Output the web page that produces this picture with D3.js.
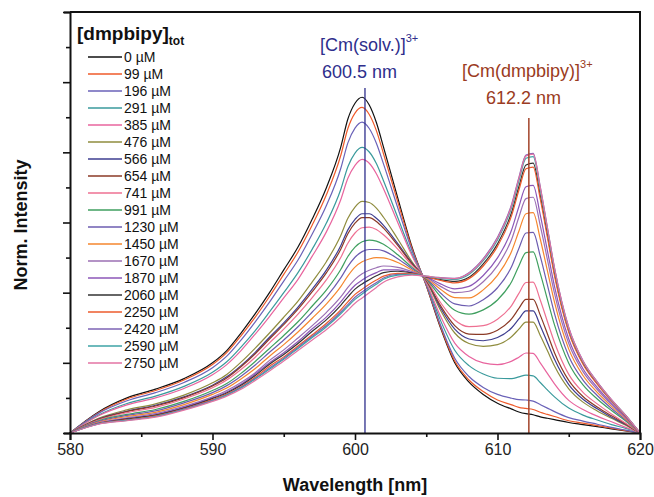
<!DOCTYPE html>
<html>
<head>
<meta charset="UTF-8">
<script src="https://d3js.org/d3.v7.min.js"></script>
<style>
  body { margin: 0; background: #fff; font-family: "Liberation Sans", Arial, sans-serif; }
  .tick text { font-size: 16px; fill: #222; }
  .axis-title { font-size: 18px; font-weight: bold; fill: #111; }
  .leg { font-size: 14px; fill: #111; }
</style>
</head>
<body>
<svg id="chart"></svg>
<script>
// wavelength grid (nm)
const wavelengths = [580,582,584,586,588,590,591,592,593,594,595,596,597,598,599,599.5,600,600.5,601,601.5,602,603,604,605,606,607,608,609,610,611,611.5,612,612.5,613,613.5,614,615,616,617,618,619,620];

const concLabels = ["0 µM","99 µM","196 µM","291 µM","385 µM","476 µM","566 µM","654 µM","741 µM","991 µM","1230 µM","1450 µM","1670 µM","1870 µM","2060 µM","2250 µM","2420 µM","2590 µM","2750 µM"];

// normalized intensity, one array per titration step
const int0    = [0,.060,.100,.125,.155,.200,.235,.285,.340,.400,.465,.530,.610,.700,.815,.895,.940,.957,.935,.885,.815,.670,.530,.420,.300,.200,.145,.110,.085,.068,.060,.055,.052,.046,.042,.038,.030,.024,.018,.012,.006,0];
const int99   = [0,.058,.097,.121,.151,.195,.229,.277,.330,.389,.452,.516,.593,.680,.791,.868,.912,.928,.908,.862,.796,.659,.526,.421,.303,.205,.151,.118,.094,.080,.073,.070,.067,.059,.053,.047,.035,.028,.021,.014,.007,0];
const int196  = [0,.056,.092,.115,.144,.186,.219,.265,.317,.373,.433,.493,.567,.649,.754,.827,.869,.886,.868,.826,.767,.642,.520,.423,.308,.213,.161,.130,.110,.099,.095,.094,.091,.081,.071,.061,.044,.034,.025,.016,.008,0];
const int291  = [0,.051,.084,.105,.133,.173,.203,.245,.292,.345,.400,.457,.524,.599,.694,.759,.798,.814,.801,.768,.719,.614,.510,.427,.321,.236,.192,.168,.156,.155,.160,.165,.163,.144,.123,.103,.071,.051,.037,.024,.013,0];
const int385  = [0,.049,.080,.100,.127,.166,.195,.235,.282,.332,.385,.438,.504,.574,.665,.726,.763,.780,.769,.739,.696,.600,.505,.428,.333,.256,.218,.200,.195,.205,.216,.228,.227,.200,.170,.140,.093,.067,.048,.032,.016,0];
const int476  = [0,.042,.066,.083,.108,.143,.167,.202,.242,.285,.330,.376,.431,.489,.563,.612,.644,.660,.657,.641,.615,.553,.488,.434,.350,.285,.255,.247,.252,.275,.296,.316,.316,.278,.235,.191,.126,.088,.063,.042,.022,0];
const int566  = [0,.040,.062,.079,.103,.136,.160,.192,.230,.273,.314,.359,.410,.465,.534,.579,.609,.625,.625,.612,.592,.540,.484,.436,.357,.296,.268,.263,.272,.300,.325,.348,.348,.306,.258,.210,.138,.096,.069,.045,.024,0];
const int654  = [0,.039,.061,.077,.101,.134,.157,.189,.226,.268,.309,.353,.403,.457,.524,.568,.598,.614,.614,.603,.584,.535,.482,.436,.363,.306,.282,.281,.293,.326,.355,.381,.381,.336,.283,.229,.150,.104,.074,.049,.026,0];
const int741  = [0,.037,.058,.073,.097,.129,.151,.181,.216,.257,.296,.339,.386,.437,.500,.541,.570,.585,.587,.580,.565,.524,.478,.438,.372,.322,.303,.306,.324,.364,.398,.429,.430,.379,.318,.258,.167,.116,.083,.054,.028,0];
const int991  = [0,.035,.053,.067,.090,.121,.141,.170,.204,.241,.278,.317,.362,.408,.466,.503,.530,.545,.550,.547,.538,.508,.472,.439,.389,.350,.339,.351,.379,.432,.476,.514,.516,.455,.381,.308,.199,.137,.097,.064,.034,0];
const int1230 = [0,.033,.050,.063,.086,.115,.135,.162,.194,.230,.265,.303,.345,.388,.442,.475,.501,.517,.523,.523,.519,.497,.468,.441,.399,.368,.362,.380,.414,.475,.526,.570,.572,.504,.422,.340,.219,.151,.107,.070,.037,0];
const int1450 = [0,.031,.047,.059,.081,.110,.128,.154,.184,.219,.252,.288,.327,.368,.417,.448,.473,.488,.496,.500,.499,.486,.464,.442,.410,.386,.385,.408,.449,.519,.575,.625,.628,.553,.463,.373,.239,.164,.116,.076,.040,0];
const int1670 = [0,.029,.043,.055,.076,.103,.121,.144,.172,.207,.237,.271,.306,.344,.388,.415,.438,.454,.464,.471,.476,.472,.460,.444,.418,.400,.404,.431,.477,.553,.615,.668,.672,.591,.495,.398,.255,.175,.124,.081,.043,0];
const int1870 = [0,.028,.041,.052,.073,.100,.117,.139,.168,.200,.229,.261,.297,.331,.374,.399,.421,.436,.448,.457,.465,.465,.457,.445,.425,.411,.418,.449,.499,.580,.645,.702,.706,.622,.520,.418,.268,.183,.130,.085,.045,0];
const int2060 = [0,.027,.040,.051,.071,.098,.114,.136,.164,.196,.224,.255,.290,.323,.364,.388,.410,.425,.437,.448,.457,.461,.456,.445,.437,.432,.444,.482,.539,.630,.702,.764,.769,.677,.566,.455,.291,.199,.141,.092,.049,0];
const int2250 = [0,.027,.038,.049,.069,.095,.111,.132,.159,.190,.217,.248,.280,.313,.351,.374,.395,.410,.424,.436,.447,.455,.454,.446,.435,.428,.440,.476,.532,.621,.692,.753,.758,.667,.558,.448,.287,.196,.139,.091,.048,0];
const int2420 = [0,.026,.037,.047,.068,.093,.109,.130,.156,.185,.213,.244,.276,.307,.345,.366,.387,.402,.416,.429,.442,.452,.452,.446,.443,.441,.457,.497,.558,.653,.728,.792,.797,.702,.586,.471,.301,.206,.146,.095,.050,0];
const int2590 = [0,.026,.036,.047,.067,.092,.108,.128,.154,.182,.210,.241,.272,.303,.340,.361,.381,.396,.411,.424,.438,.450,.452,.447,.441,.438,.452,.491,.550,.644,.718,.783,.788,.694,.580,.466,.297,.203,.144,.094,.050,0];
const int2750 = [0,.025,.035,.045,.065,.090,.105,.125,.150,.177,.205,.235,.265,.295,.330,.350,.370,.385,.400,.415,.430,.445,.450,.447,.442,.440,.455,.495,.555,.650,.725,.790,.795,.700,.585,.470,.300,.205,.145,.095,.050,0];

const spectra = [int0,int99,int196,int291,int385,int476,int566,int654,int741,int991,int1230,int1450,int1670,int1870,int2060,int2250,int2420,int2590,int2750];

const colors = ["#111111","#ef5a2a","#6a62b8","#3a9a9c","#e8649e","#8f8c3e","#3e3e90","#8b3a26","#ee7092","#3f9f5f","#6c5cb0","#f5862e","#9b6fb3","#8c57b8","#333333","#ec5b2d","#7d63b5","#3ea3a6","#e373a3"];

const xTicks = [580, 590, 600, 610, 620];
const xMinor = [585, 595, 605, 615];
const yTicks = [0,0.1,0.2,0.3,0.4,0.5,0.6,0.7,0.8,0.9,1.0,1.1,1.2];

const W = 654, H = 497;
const margin = {top: 12, right: 14, bottom: 64, left: 70};

const svg = d3.select("#chart").attr("width", W).attr("height", H);

const x = d3.scaleLinear().domain([580, 620]).range([margin.left, W - margin.right]);
const y = d3.scaleLinear().domain([0, 1.2]).range([H - margin.bottom, margin.top]);

// spectra
const line = d3.line()
    .x((d, i) => x(wavelengths[i]))
    .y(d => y(d))
    .curve(d3.curveMonotoneX);

svg.append("g")
    .selectAll("path")
    .data(spectra)
    .enter()
    .append("path")
    .attr("d", line)
    .attr("fill", "none")
    .attr("stroke", (d, i) => colors[i])
    .attr("stroke-width", 1.2);

// marker lines
svg.append("line")
    .attr("x1", x(600.7)).attr("x2", x(600.7))
    .attr("y1", 88).attr("y2", y(0))
    .attr("stroke", "#2e2e8c").attr("stroke-width", 1.3);
svg.append("line")
    .attr("x1", x(612.2)).attr("x2", x(612.2))
    .attr("y1", 118).attr("y2", y(0))
    .attr("stroke", "#a2432a").attr("stroke-width", 1.5);

// axes
svg.append("g")
    .attr("transform", `translate(0,${y(0)})`)
    .call(d3.axisBottom(x).tickValues(xTicks).tickSize(7).tickPadding(4).tickFormat(d3.format("d")));
svg.append("g")
    .attr("transform", `translate(0,${y(0)})`)
    .call(d3.axisBottom(x).tickValues(xMinor).tickSize(4).tickFormat(""))
    .select(".domain").remove();

svg.append("g")
    .attr("transform", `translate(${x(580)},0)`)
    .call(d3.axisLeft(y).tickValues(yTicks).tickFormat(""))
    .selectAll(".tick line")
    .attr("x2", (d, i) => i % 2 === 0 ? -7 : -4);

svg.selectAll(".domain").attr("stroke", "#111").attr("stroke-width", 2);
svg.selectAll(".tick line").attr("stroke", "#111").attr("stroke-width", 1.6);

// frame top + right
svg.append("path")
    .attr("d", `M${x(580)},${y(1.2)}H${x(620)}V${y(0)}`)
    .attr("fill", "none").attr("stroke", "#111").attr("stroke-width", 2);

// axis titles
svg.append("text")
    .attr("class", "axis-title")
    .attr("x", (margin.left + W - margin.right) / 2)
    .attr("y", 491)
    .attr("text-anchor", "middle")
    .text("Wavelength [nm]");

svg.append("text")
    .attr("class", "axis-title")
    .attr("transform", "translate(27,225) rotate(-90)")
    .attr("text-anchor", "middle")
    .text("Norm. Intensity");

// legend
const legTitle = svg.append("text")
    .attr("x", 77).attr("y", 40)
    .attr("font-size", 19).attr("font-weight", "bold").attr("fill", "#111");
legTitle.append("tspan").text("[dmpbipy]");
legTitle.append("tspan").attr("dy", 5).attr("font-size", 12).text("tot");

const leg = svg.append("g")
    .selectAll("g")
    .data(concLabels)
    .enter()
    .append("g")
    .attr("transform", (d, i) => `translate(0,${57 + i * 17})`);
leg.append("line")
    .attr("x1", 88).attr("x2", 122)
    .attr("stroke", (d, i) => colors[i]).attr("stroke-width", 1.4);
leg.append("text")
    .attr("class", "leg")
    .attr("x", 124).attr("dy", "0.35em")
    .text(d => d);

// peak annotations
const a1 = svg.append("text").attr("x", 320).attr("y", 51).attr("font-size", 18).attr("fill", "#2e2e8c");
a1.append("tspan").text("[Cm(solv.)]");
a1.append("tspan").attr("dy", -9).attr("font-size", 11).text("3+");
svg.append("text").attr("x", 322).attr("y", 78).attr("font-size", 18).attr("fill", "#2e2e8c").text("600.5 nm");

const a2 = svg.append("text").attr("x", 462).attr("y", 77).attr("font-size", 18).attr("fill", "#9b3b22");
a2.append("tspan").text("[Cm(dmpbipy)]");
a2.append("tspan").attr("dy", -9).attr("font-size", 11).text("3+");
svg.append("text").attr("x", 486).attr("y", 104).attr("font-size", 18).attr("fill", "#9b3b22").text("612.2 nm");
</script>
</body>
</html>
